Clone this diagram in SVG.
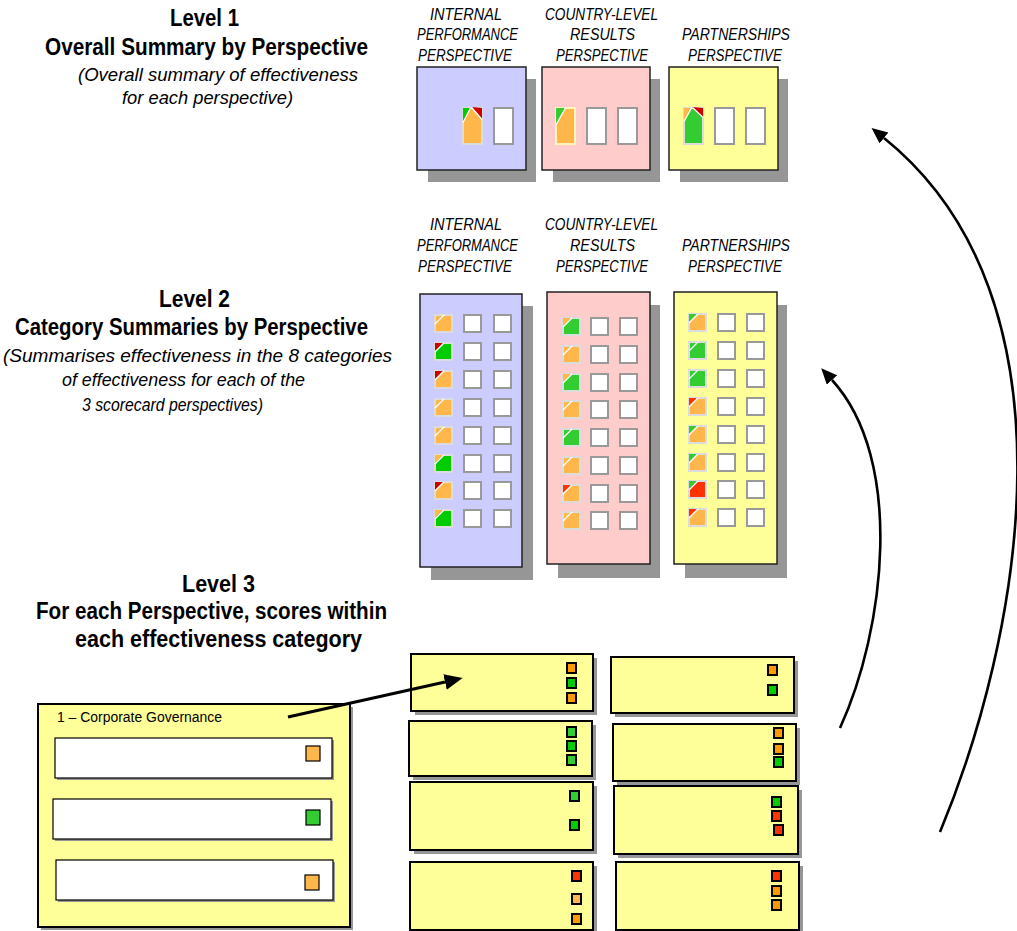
<svg xmlns="http://www.w3.org/2000/svg" xmlns:xlink="http://www.w3.org/1999/xlink" width="1017" height="931" viewBox="0 0 1017 931">
  <style>
    .head { font-family: "Liberation Sans", Arial, sans-serif; font-weight: bold; font-size: 23px; fill: #000; }
    .sub { font-family: "Liberation Sans", Arial, sans-serif; font-style: italic; font-size: 19px; fill: #000; }
    .lbl { font-family: "Liberation Sans", Arial, sans-serif; font-style: italic; font-size: 16.5px; fill: #000; }
    .cap { font-family: "Liberation Sans", Arial, sans-serif; font-size: 15.5px; fill: #000; }
    .shadow { fill: #969696; }
    .pb { fill: #ccccff; stroke: #222; stroke-width: 1.5; }
    .pp { fill: #ffcccc; stroke: #222; stroke-width: 1.5; }
    .py { fill: #ffff99; stroke: #222; stroke-width: 1.5; }
    .empty { fill: #fff; stroke: #999; stroke-width: 2; }
    .ind { stroke: #dcdcdc; stroke-width: 2; }
    .cut { fill: none; stroke: #fff; stroke-width: 1.3; }
    .card { fill: #ffff99; stroke: #000; stroke-width: 2; }
    .row { fill: #fff; stroke: #000; stroke-width: 1.2; }
    .sq { stroke: #000; stroke-width: 2; }
    .sq1 { stroke: #000; stroke-width: 1.2; }
    .conn { fill: none; stroke: #000; stroke-width: 3; }
    .curve { fill: none; stroke: #000; stroke-width: 2.6; }
  </style>
  <defs>
    <marker id="ah" markerUnits="userSpaceOnUse" markerWidth="19" markerHeight="17" refX="0" refY="8" orient="auto">
      <path d="M0,0 L18,8 L0,16 z" fill="#000"/>
    </marker>
    <marker id="ah2" markerUnits="userSpaceOnUse" markerWidth="17" markerHeight="15" refX="0" refY="7" orient="auto">
      <path d="M0,0 L16,7 L0,14 z" fill="#000"/>
    </marker>
    <!-- category summary squares: main fill with a corner flag -->
    <rect id="sq-e" class="empty" width="17" height="17"/>
    <g id="sq-oo"><rect class="ind" width="17" height="17" fill="#ffb74c"/><path class="cut" d="M9,0 L0,9"/></g>
    <g id="sq-gr"><rect class="ind" width="17" height="17" fill="#00cc00"/><path d="M0,0 H8 L0,8 z" fill="#cc0000"/><path class="cut" d="M9,0 L0,9"/></g>
    <g id="sq-or"><rect class="ind" width="17" height="17" fill="#ffb74c"/><path d="M0,0 H8 L0,8 z" fill="#cc0000"/><path class="cut" d="M9,0 L0,9"/></g>
    <g id="sq-go"><rect class="ind" width="17" height="17" fill="#00cc00"/><path d="M0,0 H8 L0,8 z" fill="#ffb74c"/><path class="cut" d="M9,0 L0,9"/></g>
    <g id="sq-Go"><rect class="ind" width="17" height="17" fill="#33cc33"/><path d="M0,0 H8 L0,8 z" fill="#ffb74c"/><path class="cut" d="M9,0 L0,9"/></g>
    <g id="sq-GG"><rect class="ind" width="17" height="17" fill="#33cc33"/><path class="cut" d="M9,0 L0,9"/></g>
    <g id="sq-oR"><rect class="ind" width="17" height="17" fill="#ffb74c"/><path d="M0,0 H8 L0,8 z" fill="#ff3300"/><path class="cut" d="M9,0 L0,9"/></g>
    <g id="sq-oG"><rect class="ind" width="17" height="17" fill="#ffb74c"/><path d="M0,0 H8 L0,8 z" fill="#33cc33"/><path class="cut" d="M9,0 L0,9"/></g>
    <g id="sq-RG"><rect class="ind" width="17" height="17" fill="#ff3300"/><path d="M0,0 H8 L0,8 z" fill="#33cc33"/><path class="cut" d="M9,0 L0,9"/></g>
    <rect id="bar-e" class="empty" width="19" height="36"/>
  </defs>

  <!-- headings -->
  <g id="level1-title">
    <text class="head" x="170" y="26" textLength="69" lengthAdjust="spacingAndGlyphs">Level 1</text>
    <text class="head" x="45" y="55" textLength="323" lengthAdjust="spacingAndGlyphs">Overall Summary by Perspective</text>
    <text class="sub" x="78" y="81" textLength="280" lengthAdjust="spacingAndGlyphs">(Overall summary of effectiveness</text>
    <text class="sub" x="122" y="104" textLength="171" lengthAdjust="spacingAndGlyphs">for each perspective)</text>
  </g>
  <g id="level2-title">
    <text class="head" x="159" y="307" textLength="71" lengthAdjust="spacingAndGlyphs">Level 2</text>
    <text class="head" x="15" y="335" textLength="353" lengthAdjust="spacingAndGlyphs">Category Summaries by Perspective</text>
    <text class="sub" x="3" y="362" textLength="389" lengthAdjust="spacingAndGlyphs">(Summarises effectiveness in the 8 categories</text>
    <text class="sub" x="62" y="386" textLength="243" lengthAdjust="spacingAndGlyphs">of effectiveness for each of the</text>
    <text class="sub" x="82" y="411" textLength="181" lengthAdjust="spacingAndGlyphs">3 scorecard perspectives)</text>
  </g>
  <g id="level3-title">
    <text class="head" x="182" y="592" textLength="73" lengthAdjust="spacingAndGlyphs">Level 3</text>
    <text class="head" x="36" y="619" textLength="351" lengthAdjust="spacingAndGlyphs">For each Perspective, scores within</text>
    <text class="head" x="75" y="647" textLength="287" lengthAdjust="spacingAndGlyphs">each effectiveness category</text>
  </g>

  <!-- perspective labels -->
  <g id="labels-l1">
    <text class="lbl" x="430" y="20" textLength="72" lengthAdjust="spacingAndGlyphs">INTERNAL</text>
    <text class="lbl" x="417" y="40" textLength="101" lengthAdjust="spacingAndGlyphs">PERFORMANCE</text>
    <text class="lbl" x="418" y="61" textLength="94" lengthAdjust="spacingAndGlyphs">PERSPECTIVE</text>
    <text class="lbl" x="545" y="20" textLength="113" lengthAdjust="spacingAndGlyphs">COUNTRY-LEVEL</text>
    <text class="lbl" x="570" y="40" textLength="65" lengthAdjust="spacingAndGlyphs">RESULTS</text>
    <text class="lbl" x="556" y="61" textLength="92" lengthAdjust="spacingAndGlyphs">PERSPECTIVE</text>
    <text class="lbl" x="682" y="40" textLength="108" lengthAdjust="spacingAndGlyphs">PARTNERSHIPS</text>
    <text class="lbl" x="688" y="61" textLength="94" lengthAdjust="spacingAndGlyphs">PERSPECTIVE</text>
  </g>
  <g id="labels-l2">
    <text class="lbl" x="430" y="230" textLength="72" lengthAdjust="spacingAndGlyphs">INTERNAL</text>
    <text class="lbl" x="417" y="251" textLength="101" lengthAdjust="spacingAndGlyphs">PERFORMANCE</text>
    <text class="lbl" x="418" y="272" textLength="94" lengthAdjust="spacingAndGlyphs">PERSPECTIVE</text>
    <text class="lbl" x="545" y="230" textLength="113" lengthAdjust="spacingAndGlyphs">COUNTRY-LEVEL</text>
    <text class="lbl" x="570" y="251" textLength="65" lengthAdjust="spacingAndGlyphs">RESULTS</text>
    <text class="lbl" x="556" y="272" textLength="92" lengthAdjust="spacingAndGlyphs">PERSPECTIVE</text>
    <text class="lbl" x="682" y="251" textLength="108" lengthAdjust="spacingAndGlyphs">PARTNERSHIPS</text>
    <text class="lbl" x="688" y="272" textLength="94" lengthAdjust="spacingAndGlyphs">PERSPECTIVE</text>
  </g>

  <!-- level 1 overall panels -->
  <g id="l1-internal">
    <rect class="shadow" x="428" y="79" width="108" height="103"/>
    <rect class="pb" x="417" y="67" width="109" height="103"/>
    <rect class="ind" x="463" y="108" width="19" height="36" fill="#ffb74c"/>
    <path d="M463,108 H470 L463,122 z" fill="#00cc00"/>
    <path d="M472,107 L482,108 L482,119 z" fill="#cc0000"/>
    <path class="cut" d="M470.5,108 L463,122.5 M471.5,107.5 L482,119.5"/>
    <use xlink:href="#bar-e" x="494" y="108"/>
  </g>
  <g id="l1-country">
    <rect class="shadow" x="553" y="79" width="107" height="103"/>
    <rect class="pp" x="542" y="67" width="108" height="103"/>
    <rect x="556" y="108" width="19" height="36" fill="#ffb74c" stroke="#fff5b8" stroke-width="2"/>
    <path d="M556,108 H565 L556,124 z" fill="#33cc33"/>
    <path class="cut" d="M565.5,108 L556,125"/>
    <use xlink:href="#bar-e" x="587" y="108"/>
    <use xlink:href="#bar-e" x="618" y="108"/>
  </g>
  <g id="l1-partnerships">
    <rect class="shadow" x="680" y="79" width="108" height="103"/>
    <rect class="py" x="669" y="67" width="109" height="103"/>
    <rect class="ind" x="684" y="108" width="19" height="36" fill="#33cc33"/>
    <path d="M684,108 H691 L684,121 z" fill="#ffb74c"/>
    <path d="M692,107 L703,108 L703,117 z" fill="#cc0000"/>
    <path class="cut" d="M691.5,108 L684,121.5 M692.5,107.5 L703,117.5"/>
    <use xlink:href="#bar-e" x="715" y="108"/>
    <use xlink:href="#bar-e" x="746" y="108"/>
  </g>

  <!-- level 2 category panels -->
  <g id="l2-internal">
    <rect class="shadow" x="431" y="306" width="102" height="274"/>
    <rect class="pb" x="420" y="294" width="102" height="273"/>
    <use xlink:href="#sq-oo" x="435" y="315"/><use xlink:href="#sq-e" x="464" y="315"/><use xlink:href="#sq-e" x="494" y="315"/>
    <use xlink:href="#sq-gr" x="435" y="343"/><use xlink:href="#sq-e" x="464" y="343"/><use xlink:href="#sq-e" x="494" y="343"/>
    <use xlink:href="#sq-or" x="435" y="371"/><use xlink:href="#sq-e" x="464" y="371"/><use xlink:href="#sq-e" x="494" y="371"/>
    <use xlink:href="#sq-oo" x="435" y="399"/><use xlink:href="#sq-e" x="464" y="399"/><use xlink:href="#sq-e" x="494" y="399"/>
    <use xlink:href="#sq-oo" x="435" y="427"/><use xlink:href="#sq-e" x="464" y="427"/><use xlink:href="#sq-e" x="494" y="427"/>
    <use xlink:href="#sq-go" x="435" y="455"/><use xlink:href="#sq-e" x="464" y="455"/><use xlink:href="#sq-e" x="494" y="455"/>
    <use xlink:href="#sq-or" x="435" y="482"/><use xlink:href="#sq-e" x="464" y="482"/><use xlink:href="#sq-e" x="494" y="482"/>
    <use xlink:href="#sq-go" x="435" y="510"/><use xlink:href="#sq-e" x="464" y="510"/><use xlink:href="#sq-e" x="494" y="510"/>
  </g>
  <g id="l2-country">
    <rect class="shadow" x="558" y="305" width="102" height="273"/>
    <rect class="pp" x="547" y="292" width="103" height="272"/>
    <use xlink:href="#sq-Go" x="563" y="318"/><use xlink:href="#sq-e" x="591" y="318"/><use xlink:href="#sq-e" x="620" y="318"/>
    <use xlink:href="#sq-oo" x="563" y="346"/><use xlink:href="#sq-e" x="591" y="346"/><use xlink:href="#sq-e" x="620" y="346"/>
    <use xlink:href="#sq-Go" x="563" y="374"/><use xlink:href="#sq-e" x="591" y="374"/><use xlink:href="#sq-e" x="620" y="374"/>
    <use xlink:href="#sq-oo" x="563" y="401"/><use xlink:href="#sq-e" x="591" y="401"/><use xlink:href="#sq-e" x="620" y="401"/>
    <use xlink:href="#sq-GG" x="563" y="429"/><use xlink:href="#sq-e" x="591" y="429"/><use xlink:href="#sq-e" x="620" y="429"/>
    <use xlink:href="#sq-oo" x="563" y="457"/><use xlink:href="#sq-e" x="591" y="457"/><use xlink:href="#sq-e" x="620" y="457"/>
    <use xlink:href="#sq-oR" x="563" y="485"/><use xlink:href="#sq-e" x="591" y="485"/><use xlink:href="#sq-e" x="620" y="485"/>
    <use xlink:href="#sq-oo" x="563" y="512"/><use xlink:href="#sq-e" x="591" y="512"/><use xlink:href="#sq-e" x="620" y="512"/>
  </g>
  <g id="l2-partnerships">
    <rect class="shadow" x="685" y="305" width="102" height="273"/>
    <rect class="py" x="674" y="292" width="103" height="272"/>
    <use xlink:href="#sq-oG" x="689" y="314"/><use xlink:href="#sq-e" x="718" y="314"/><use xlink:href="#sq-e" x="747" y="314"/>
    <use xlink:href="#sq-GG" x="689" y="342"/><use xlink:href="#sq-e" x="718" y="342"/><use xlink:href="#sq-e" x="747" y="342"/>
    <use xlink:href="#sq-GG" x="689" y="370"/><use xlink:href="#sq-e" x="718" y="370"/><use xlink:href="#sq-e" x="747" y="370"/>
    <use xlink:href="#sq-oR" x="689" y="398"/><use xlink:href="#sq-e" x="718" y="398"/><use xlink:href="#sq-e" x="747" y="398"/>
    <use xlink:href="#sq-oG" x="689" y="426"/><use xlink:href="#sq-e" x="718" y="426"/><use xlink:href="#sq-e" x="747" y="426"/>
    <use xlink:href="#sq-oG" x="689" y="454"/><use xlink:href="#sq-e" x="718" y="454"/><use xlink:href="#sq-e" x="747" y="454"/>
    <use xlink:href="#sq-RG" x="689" y="481"/><use xlink:href="#sq-e" x="718" y="481"/><use xlink:href="#sq-e" x="747" y="481"/>
    <use xlink:href="#sq-oR" x="689" y="509"/><use xlink:href="#sq-e" x="718" y="509"/><use xlink:href="#sq-e" x="747" y="509"/>
  </g>

  <!-- level 3 detail card -->
  <g id="l3-corporate-governance">
    <rect class="shadow" x="41" y="707" width="312" height="223"/>
    <rect class="card" x="38" y="704" width="312" height="223" stroke-width="1.5"/>
    <text class="cap" x="57" y="722" textLength="165" lengthAdjust="spacingAndGlyphs">1 – Corporate Governance</text>
    <rect class="shadow" x="57" y="740" width="277" height="40"/>
    <rect class="row" x="55" y="738" width="277" height="40"/>
    <rect class="sq1" x="306" y="746" width="14" height="15" fill="#ffb74c"/>
    <rect class="shadow" x="55" y="801" width="278" height="40"/>
    <rect class="row" x="53" y="799" width="278" height="40"/>
    <rect class="sq1" x="306" y="810" width="14" height="15" fill="#33cc33"/>
    <rect class="shadow" x="58" y="862" width="277" height="40"/>
    <rect class="row" x="56" y="860" width="277" height="40"/>
    <rect class="sq1" x="305" y="875" width="14" height="15" fill="#ffb74c"/>
  </g>

  <!-- level 3 category cards -->
  <g id="l3-card-1">
    <rect class="shadow" x="415" y="658" width="182" height="57"/>
    <rect class="card" x="411" y="654" width="182" height="57"/>
    <rect class="sq" x="567" y="663" width="9" height="10" fill="#ff9900"/>
    <rect class="sq" x="567" y="678" width="9" height="10" fill="#00cc00"/>
    <rect class="sq" x="567" y="693" width="9" height="10" fill="#ff9900"/>
  </g>
  <g id="l3-card-2">
    <rect class="shadow" x="615" y="661" width="183" height="56"/>
    <rect class="card" x="611" y="657" width="183" height="56"/>
    <rect class="sq" x="768" y="665" width="9" height="10" fill="#ff9900"/>
    <rect class="sq" x="768" y="685" width="9" height="10" fill="#00cc00"/>
  </g>
  <g id="l3-card-3">
    <rect class="shadow" x="413" y="725" width="183" height="55"/>
    <rect class="card" x="409" y="721" width="183" height="55"/>
    <rect class="sq" x="567" y="727" width="9" height="10" fill="#33cc33"/>
    <rect class="sq" x="567" y="741" width="9" height="10" fill="#00cc00"/>
    <rect class="sq" x="567" y="755" width="9" height="10" fill="#33cc33"/>
  </g>
  <g id="l3-card-4">
    <rect class="shadow" x="617" y="728" width="183" height="57"/>
    <rect class="card" x="613" y="724" width="183" height="57"/>
    <rect class="sq" x="774" y="728" width="9" height="10" fill="#ff9900"/>
    <rect class="sq" x="774" y="744" width="9" height="10" fill="#ff9900"/>
    <rect class="sq" x="774" y="757" width="9" height="10" fill="#00cc00"/>
  </g>
  <g id="l3-card-5">
    <rect class="shadow" x="414" y="786" width="183" height="68"/>
    <rect class="card" x="410" y="782" width="183" height="68"/>
    <rect class="sq" x="570" y="791" width="9" height="10" fill="#33cc33"/>
    <rect class="sq" x="570" y="820" width="9" height="10" fill="#00cc00"/>
  </g>
  <g id="l3-card-6">
    <rect class="shadow" x="618" y="790" width="184" height="68"/>
    <rect class="card" x="614" y="786" width="184" height="68"/>
    <rect class="sq" x="772" y="797" width="9" height="10" fill="#00cc00"/>
    <rect class="sq" x="772" y="811" width="9" height="10" fill="#ff3300"/>
    <rect class="sq" x="774" y="825" width="9" height="10" fill="#ff3300"/>
  </g>
  <g id="l3-card-7">
    <rect class="shadow" x="414" y="866" width="183" height="68"/>
    <rect class="card" x="410" y="862" width="183" height="68"/>
    <rect class="sq" x="572" y="871" width="9" height="10" fill="#ff3300"/>
    <rect class="sq" x="572" y="894" width="9" height="10" fill="#ffb74c"/>
    <rect class="sq" x="572" y="914" width="9" height="10" fill="#ff9900"/>
  </g>
  <g id="l3-card-8">
    <rect class="shadow" x="620" y="866" width="183" height="68"/>
    <rect class="card" x="616" y="862" width="183" height="68"/>
    <rect class="sq" x="772" y="871" width="9" height="10" fill="#ff3300"/>
    <rect class="sq" x="772" y="886" width="9" height="10" fill="#ff9900"/>
    <rect class="sq" x="772" y="900" width="9" height="10" fill="#ff9900"/>
  </g>

  <!-- connectors -->
  <g id="connectors">
    <path class="conn" d="M288,717 L445,682" marker-end="url(#ah)"/>
    <path class="curve" d="M840,728 C885,630 905,460 832,380" marker-end="url(#ah2)"/>
    <path class="curve" d="M940,832 C1020,640 1085,300 884,138" marker-end="url(#ah2)"/>
  </g>
</svg>
